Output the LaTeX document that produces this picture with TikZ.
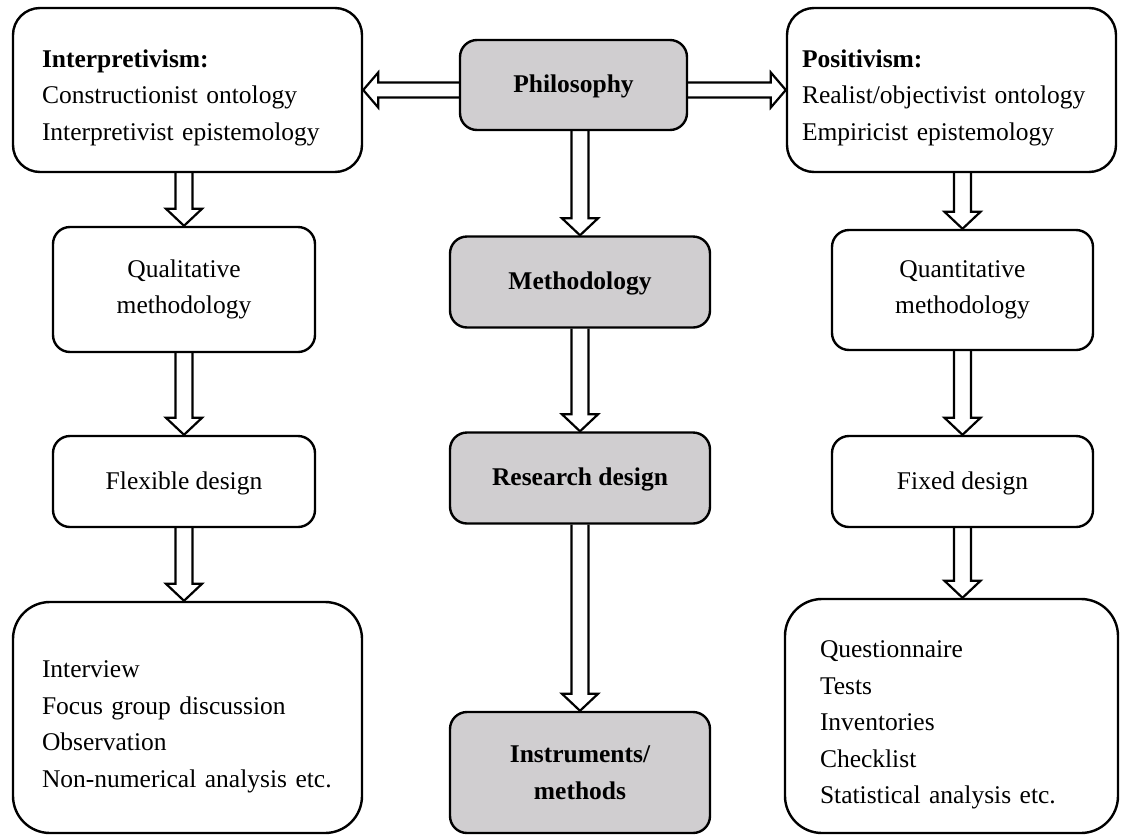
\documentclass[tikz,border=0pt]{standalone}
\usepackage{fontspec}
\setmainfont{Liberation Serif}
\usepackage{xcolor}
\usepackage{tikz}
\usetikzlibrary{calc,backgrounds}
\definecolor{boxgray}{HTML}{D0CED0}

% hollow block arrow going down, #3 gives its x position
\newcommand{\downarr}[3]{%
  \draw[blockarr] let \p1=(#1.south), \p2=(#2.north), \p3=(#3.center) in
    (\x3-8.5pt,\y1) -- (\x3-8.5pt,\y2+17pt) -- (\x3-18pt,\y2+17pt) -- (\x3,\y2)
    -- (\x3+18pt,\y2+17pt) -- (\x3+8.5pt,\y2+17pt) -- (\x3+8.5pt,\y1);
}

\begin{document}
\begin{tikzpicture}[
  x=1pt, y=-1pt,
  every node/.style={font=\fontsize{25.5}{36.5}\selectfont},
  textdown/.style={execute at begin node={\rule{0pt}{#1}}},
  box/.style={rectangle, draw, line width=2.4pt, rounded corners=17pt, minimum width=262pt, minimum height=91pt, align=center},
  midbox/.style={box, fill=boxgray, minimum width=260pt, font=\fontsize{25.5}{36.5}\selectfont\bfseries, textdown=21pt},
  bigbox/.style={box, rounded corners=27pt, align=left, minimum height=164pt, textdown=33pt},
  listbox/.style={box, rounded corners=37pt, align=left, textdown=35pt},
  blockarr/.style={draw, fill=white, line width=2.2pt, line join=miter}
]
\useasboundingbox (0,0) rectangle (1128,836);

% Philosophy row
\node[bigbox, inner xsep=29pt, text width=291pt, minimum width=349pt] (interp) at (187.5,90) {\textbf{Interpretivism:}\\Constructionist ontology\\Interpretivist epistemology};
\node[midbox, minimum width=227pt, minimum height=90pt] (philo) at (573.5,85) {Philosophy};
\node[bigbox, inner xsep=15pt, text width=299pt, minimum width=329pt] (posit) at (951.5,90) {\textbf{Positivism:}\\Realist/objectivist ontology\\Empiricist epistemology};

% Left column
\node[box, minimum height=125pt, textdown=27.5pt] (qual) at (184,289.5) {Qualitative\\methodology};
\node[box, textdown=21pt] (flex) at (184,481.5) {Flexible design};
\node[listbox, inner xsep=29pt, text width=291pt, minimum width=349pt, minimum height=231pt] (lefttools) at (187.5,717.5) {Interview\\Focus group discussion\\Observation\\Non-numerical analysis etc.};

% Middle column
\node[midbox] (meth) at (580,282) {Methodology};
\node[midbox] (rdes) at (580,478) {Research design};
\node[midbox, minimum height=121pt] (instr) at (580,772.5) {Instruments/\\methods};

% Right column
\node[box, minimum width=261pt, minimum height=120pt, textdown=27.5pt] (quan) at (962.5,290) {Quantitative\\methodology};
\node[box, minimum width=261pt, textdown=21pt] (fixed) at (962.5,481.5) {Fixed design};
\node[listbox, inner xsep=35pt, text width=263pt, minimum width=333pt, minimum height=234pt] (righttools) at (951.5,716) {Questionnaire\\Tests\\Inventories\\Checklist\\Statistical analysis etc.};

% Arrows
\begin{scope}[on background layer]
  \draw[blockarr] let \p1=(philo.west), \p2=(interp.east) in
    (\x1,\y2+7.5pt) -- (\x2+15pt,\y2+7.5pt) -- (\x2+15pt,\y2+17.5pt) -- (\x2,\y2)
    -- (\x2+15pt,\y2-17.5pt) -- (\x2+15pt,\y2-7.5pt) -- (\x1,\y2-7.5pt);
  \draw[blockarr] let \p1=(philo.east), \p2=(posit.west) in
    (\x1,\y2+7.5pt) -- (\x2-15pt,\y2+7.5pt) -- (\x2-15pt,\y2+17.5pt) -- (\x2,\y2)
    -- (\x2-15pt,\y2-17.5pt) -- (\x2-15pt,\y2-7.5pt) -- (\x1,\y2-7.5pt);
  \downarr{interp}{qual}{qual}
  \downarr{qual}{flex}{qual}
  \downarr{flex}{lefttools}{flex}
  \downarr{philo}{meth}{meth}
  \downarr{meth}{rdes}{meth}
  \downarr{rdes}{instr}{rdes}
  \downarr{posit}{quan}{quan}
  \downarr{quan}{fixed}{quan}
  \downarr{fixed}{righttools}{fixed}
\end{scope}

\end{tikzpicture}
\end{document}
